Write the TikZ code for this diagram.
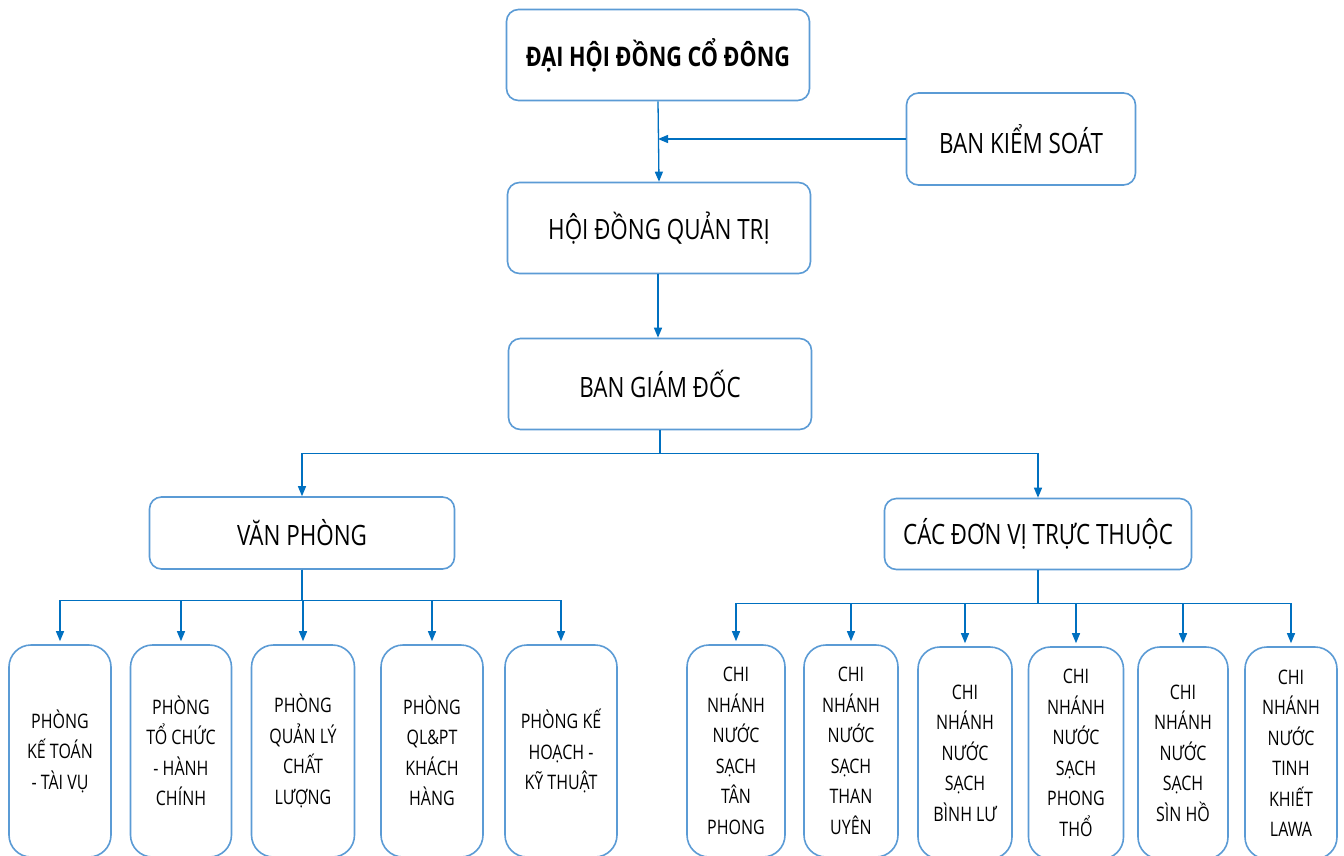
\documentclass[tikz,border=0pt]{standalone}
\usepackage{fontspec}
\setmainfont{Open Sans}[FakeStretch=0.8]
\usetikzlibrary{arrows.meta}
\definecolor{boxblue}{HTML}{5B9BD5}
\definecolor{linkblue}{HTML}{0070C0}
\tikzset{
  topbox/.style={draw=boxblue, line width=1.6pt, rounded corners=12pt, fill=white,
    minimum width=#1, minimum height=91pt, inner sep=0pt, font=\fontsize{28}{30}\selectfont, text=black},
  unitbox/.style={draw=boxblue, line width=1.6pt, rounded corners=22pt, fill=white,
    minimum width=#1, minimum height=212pt, inner sep=0pt, align=center,
    font=\fontsize{20}{30.5}\selectfont, text=black},
  conn/.style={draw=linkblue, line width=1.3pt, -{Triangle[length=10pt,width=8pt]}},
  plain/.style={draw=linkblue, line width=1.3pt}
}
\begin{document}
\begin{tikzpicture}[x=1pt,y=-1pt]
\clip (0,0) rectangle (1344,855);
\fill[white] (0,0) rectangle (1344,855);
% top chain
\node[topbox=303pt, font=\fontsize{27}{30}\selectfont\bfseries] (dh) at (658,55) {ĐẠI HỘI ĐỒNG CỔ ĐÔNG};
\node[topbox=229pt, minimum height=92pt] (bks) at (1021,139) {BAN KIỂM SOÁT};
\node[topbox=303pt] (hd) at (659,228) {HỘI ĐỒNG QUẢN TRỊ};
\node[topbox=303pt] (bgd) at (660,384) {BAN GIÁM ĐỐC};
\node[topbox=305pt, minimum height=72pt] (vp) at (302,533) {VĂN PHÒNG};
\node[topbox=307pt, minimum height=71pt] (cdv) at (1038,534) {CÁC ĐƠN VỊ TRỰC THUỘC};
% bottom left
\node[unitbox=102pt] (p1) at (60,751) {PHÒNG\\KẾ TOÁN\\- TÀI VỤ};
\node[unitbox=101pt] (p2) at (181,751) {PHÒNG\\TỔ CHỨC\\- HÀNH\\CHÍNH};
\node[unitbox=103pt] (p3) at (303,751) {PHÒNG\\QUẢN LÝ\\CHẤT\\LƯỢNG};
\node[unitbox=102pt] (p4) at (432,751) {PHÒNG\\QL\&PT\\KHÁCH\\HÀNG};
\node[unitbox=112pt] (p5) at (561,751) {PHÒNG KẾ\\HOẠCH -\\KỸ THUẬT};
% bottom right
\node[unitbox=98pt] (c1) at (736,751) {CHI\\NHÁNH\\NƯỚC\\SẠCH\\TÂN\\PHONG};
\node[unitbox=94pt] (c2) at (851,751) {CHI\\NHÁNH\\NƯỚC\\SẠCH\\THAN\\UYÊN};
\node[unitbox=94pt] (c3) at (965,753) {CHI\\NHÁNH\\NƯỚC\\SẠCH\\BÌNH LƯ};
\node[unitbox=95pt] (c4) at (1076,753) {CHI\\NHÁNH\\NƯỚC\\SẠCH\\PHONG\\THỔ};
\node[unitbox=90pt] (c5) at (1183,753) {CHI\\NHÁNH\\NƯỚC\\SẠCH\\SÌN HỒ};
\node[unitbox=92pt] (c6) at (1291,753) {CHI\\NHÁNH\\NƯỚC\\TINH\\KHIẾT\\LAWA};
% connectors
\coordinate (j1) at (dh.south |- bks.west);
\draw[conn] (dh.south) -- (hd.north);
\draw[conn] (bks.west) -- (j1);
\draw[conn] (hd.south -| dh.south) -- (bgd.north -| dh.south);
\draw[plain] (bgd.south) -- ++(0,23);
\draw[conn] (bgd.south) ++(0,23) -| (vp.north);
\draw[conn] (bgd.south) ++(0,23) -| (cdv.north);
\foreach \n in {p1,p2,p3,p4,p5}{
  \draw[conn] (vp.south) -- ++(0,31) -| ([yshift=3pt]\n.north);
}
\foreach \n in {c1,c2,c3,c4,c5,c6}{
  \draw[conn] (cdv.south) -- ++(0,33) -| ([yshift=3pt]\n.north);
}
\end{tikzpicture}
\end{document}
